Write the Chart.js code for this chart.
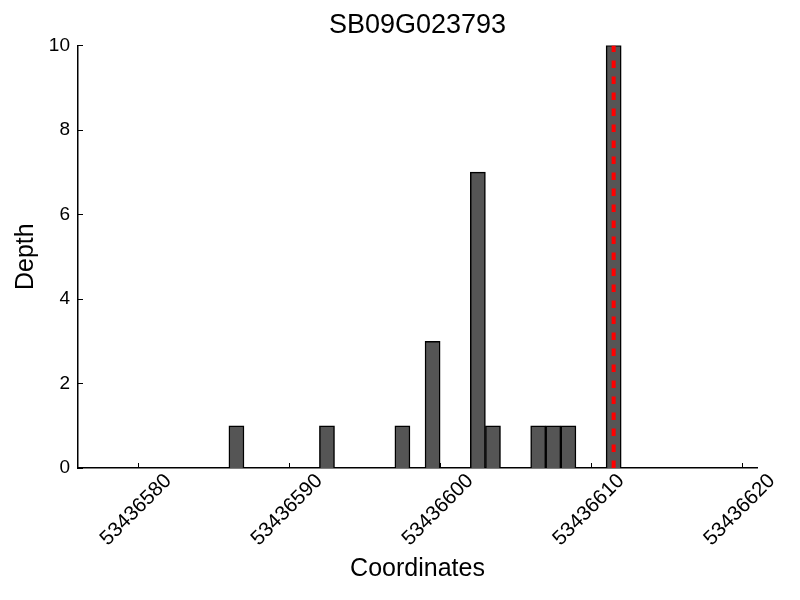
<!DOCTYPE html>
<html>
<head>
<meta charset="utf-8">
<script src="https://cdn.jsdelivr.net/npm/chart.js@4/dist/chart.umd.min.js"></script>
<style>
  html, body { margin: 0; padding: 0; background: #fff; }
  #wrap { width: 800px; height: 600px; }
</style>
</head>
<body>
<div id="wrap"><canvas id="myChart" width="800" height="600"></canvas></div>
<script>
// data
const chartTitle = 'SB09G023793';
const coords = [53436586, 53436592, 53436597, 53436599, 53436602, 53436603, 53436606, 53436607, 53436608, 53436611];
const depths = [1, 1, 1, 3, 7, 1, 1, 1, 1, 10];
const markerPos = 53436611.5;
const xTicks = [53436580, 53436590, 53436600, 53436610, 53436620];
const yTicks = [0, 2, 4, 6, 8, 10];

const fontFam = '"Liberation Sans", Arial, sans-serif';

// bars span [coord, coord+1]
const barData = coords.map((c, i) => ({ x: c + 0.5, y: depths[i] }));

// inward tick marks, drawn through the scales
const innerTicks = {
    id: 'innerTicks',
    afterDraw(chart) {
        const c = chart.ctx;
        const xs = chart.scales.x, ys = chart.scales.y;
        c.save();
        c.strokeStyle = '#000';
        c.lineWidth = 1;
        xTicks.forEach(v => {
            const px = Math.round(xs.getPixelForValue(v)) + 0.5;
            c.beginPath();
            c.moveTo(px, ys.bottom);
            c.lineTo(px, ys.bottom - 5);
            c.stroke();
        });
        yTicks.forEach(v => {
            const py = Math.round(ys.getPixelForValue(v)) + 0.5;
            c.beginPath();
            c.moveTo(xs.left, py);
            c.lineTo(xs.left + 5, py);
            c.stroke();
        });
        c.restore();
    }
};

const ctx = document.getElementById('myChart').getContext('2d');
const myChart = new Chart(ctx, {
    type: 'bar',
    data: {
        datasets: [{
            type: 'line',
            data: [{ x: markerPos, y: 0 }, { x: markerPos, y: 10 }],
            borderColor: '#ff0000',
            borderWidth: 4,
            borderDash: [7.5, 8.5],
            pointRadius: 0,
            order: 0
        }, {
            data: barData,
            backgroundColor: '#555555',
            borderColor: '#000000',
            borderWidth: 1.5,
            barPercentage: 1,
            categoryPercentage: 1,
            order: 1
        }]
    },
    options: {
        responsive: false,
        animation: false,
        layout: { padding: { left: 0, right: 43, top: 0, bottom: 0 } },
        plugins: {
            legend: { display: false },
            tooltip: { enabled: false },
            title: {
                display: true,
                fullSize: false,
                text: chartTitle,
                color: '#000',
                font: { family: fontFam, size: 27, weight: 'normal' },
                padding: { top: 9, bottom: 4 }
            }
        },
        scales: {
            x: {
                type: 'linear',
                min: 53436576,
                max: 53436621,
                offset: false,
                border: { display: true, color: '#000', width: 1.5 },
                grid: { display: false, drawTicks: false },
                afterFit(scale) { scale.height = 132; },
                afterBuildTicks(scale) { scale.ticks = xTicks.map(v => ({ value: v })); },
                ticks: {
                    color: '#000',
                    font: { family: fontFam, size: 20.5 },
                    minRotation: 45,
                    maxRotation: 45,
                    labelOffset: 30,
                    padding: 1,
                    callback: v => String(v)
                },
                title: {
                    display: true,
                    text: 'Coordinates',
                    color: '#000',
                    font: { family: fontFam, size: 25 },
                    padding: { top: 0, bottom: 16 }
                }
            },
            y: {
                min: 0,
                max: 10,
                border: { display: true, color: '#000', width: 1.5 },
                grid: { display: false, drawTicks: false },
                afterFit(scale) { scale.width = 78; },
                afterBuildTicks(scale) { scale.ticks = yTicks.map(v => ({ value: v })); },
                ticks: {
                    color: '#000',
                    font: { family: fontFam, size: 19 },
                    padding: 8
                },
                title: {
                    display: true,
                    text: 'Depth',
                    color: '#000',
                    font: { family: fontFam, size: 25 },
                    padding: { top: 11, bottom: 0 }
                }
            }
        }
    },
    plugins: [innerTicks]
});
</script>
</body>
</html>
